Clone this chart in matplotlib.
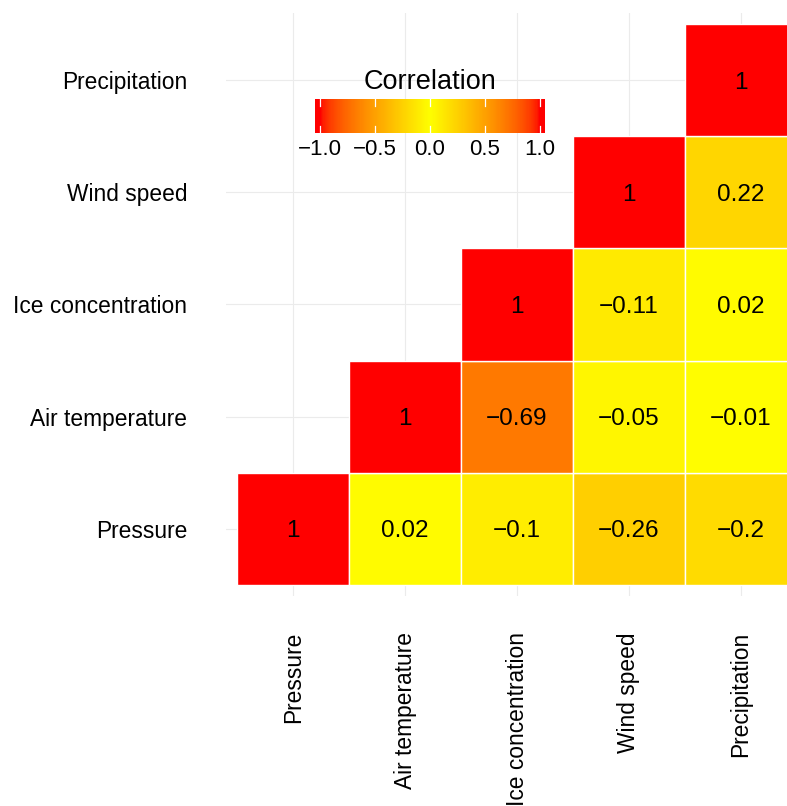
import numpy as np
import matplotlib
matplotlib.use("Agg")
import matplotlib.pyplot as plt
from matplotlib.colors import ListedColormap

plt.rcParams['font.family'] = ['Liberation Sans', 'DejaVu Sans']

variables = ["Pressure", "Air temperature", "Ice concentration", "Wind speed", "Precipitation"]
# upper triangle correlations: (row variable, column variable, value)
row_var = ["Pressure", "Pressure", "Pressure", "Pressure", "Pressure",
           "Air temperature", "Air temperature", "Air temperature", "Air temperature",
           "Ice concentration", "Ice concentration", "Ice concentration",
           "Wind speed", "Wind speed",
           "Precipitation"]
col_var = ["Pressure", "Air temperature", "Ice concentration", "Wind speed", "Precipitation",
           "Air temperature", "Ice concentration", "Wind speed", "Precipitation",
           "Ice concentration", "Wind speed", "Precipitation",
           "Wind speed", "Precipitation",
           "Precipitation"]
corr_vals = [1, 0.02, -0.1, -0.26, -0.2,
             1, -0.69, -0.05, -0.01,
             1, -0.11, 0.02,
             1, 0.22,
             1]
legend_ticks = [-1.0, -0.5, 0.0, 0.5, 1.0]

# ---- Lab-space gradient red -> yellow -> red (like scale_fill_gradient2) ----
M = np.array([[0.4124, 0.3576, 0.1805], [0.2126, 0.7152, 0.0722], [0.0193, 0.1192, 0.9505]])
Minv = np.linalg.inv(M)
WHITE = np.array([0.95047, 1.0, 1.08883])

def srgb_to_lab(rgb):
    c = np.asarray(rgb, float)
    lin = np.where(c <= 0.04045, c / 12.92, ((c + 0.055) / 1.055) ** 2.4)
    xyz = M @ lin / WHITE
    f = np.where(xyz > 0.008856, np.cbrt(xyz), 7.787 * xyz + 16 / 116)
    return np.array([116 * f[1] - 16, 500 * (f[0] - f[1]), 200 * (f[1] - f[2])])

def lab_to_srgb(lab):
    L, a, b = lab
    fy = (L + 16) / 116
    fx = fy + a / 500
    fz = fy - b / 200
    f = np.array([fx, fy, fz])
    xyz = np.where(f ** 3 > 0.008856, f ** 3, (f - 16 / 116) / 7.787) * WHITE
    lin = np.clip(Minv @ xyz, 0, 1)
    return np.clip(np.where(lin <= 0.0031308, 12.92 * lin, 1.055 * lin ** (1 / 2.4) - 0.055), 0, 1)

lab_red = srgb_to_lab([1, 0, 0])
lab_yel = srgb_to_lab([1, 1, 0])
N = 256
cols = []
for t in np.linspace(-1, 1, N):
    fr = abs(t)
    lab = lab_yel + (lab_red - lab_yel) * fr
    cols.append(lab_to_srgb(lab))
cmap = ListedColormap(cols)

# ---- figure ----
W, H = 787, 806
fig = plt.figure(figsize=(W / 100, H / 100), dpi=100)
ax = fig.add_axes([226 / W, (H - 596) / H, 582 / W, 583 / H])
n = len(variables)
ax.set_xlim(0.4, n + 0.6)
ax.set_ylim(0.4, n + 0.6)
for s in ax.spines.values():
    s.set_visible(False)
ax.set_axisbelow(True)
ax.grid(True, color='#ebebeb', linewidth=0.8)
pos = np.arange(1, n + 1)
ax.set_xticks(pos)
ax.set_xticklabels(variables, rotation=90, fontsize=16.4, color='black')
ax.set_yticks(pos)
ax.set_yticklabels(variables, fontsize=16.4, color='black')
ax.tick_params(axis='x', length=0, pad=26)
ax.tick_params(axis='y', length=0, pad=28)

idx = {v: i + 1 for i, v in enumerate(variables)}
for rv, cv, val in zip(row_var, col_var, corr_vals):
    x = idx[cv]
    y = idx[rv]
    color = cmap((val + 1) / 2)
    ax.add_patch(plt.Rectangle((x - 0.5, y - 0.5), 1, 1, facecolor=color,
                               edgecolor='white', linewidth=1.0, zorder=2))
    label = ('{:g}'.format(val)).replace('-', '\u2212')
    ax.text(x, y, label, ha='center', va='center_baseline', fontsize=17.5, color='black', zorder=3)

# ---- legend colorbar ----
ext = 1.045
cax = fig.add_axes([315 / W, (H - 133) / H, 230 / W, 34 / H])
grad = np.linspace(-ext, ext, 300).reshape(1, -1)
cax.imshow(grad, cmap=cmap, vmin=-1, vmax=1, aspect='auto', extent=[-ext, ext, 0, 1])
cax.set_xlim(-ext, ext)
cax.set_ylim(0, 1)
for s in cax.spines.values():
    s.set_visible(False)
cax.set_yticks([])
cax.set_xticks(legend_ticks)
cax.set_xticklabels([('{:.1f}'.format(t)).replace('-', '\u2212') for t in legend_ticks], fontsize=16)
cax.tick_params(axis='x', length=0, pad=4)
for t in legend_ticks:
    cax.plot([t, t], [0, 0.2], color='white', lw=0.9)
    cax.plot([t, t], [0.8, 1], color='white', lw=0.9)
fig.text(430 / W, (H - 89) / H, "Correlation", ha='center', va='baseline', fontsize=19.5)

fig.savefig("out.png", dpi=100, facecolor='white')
